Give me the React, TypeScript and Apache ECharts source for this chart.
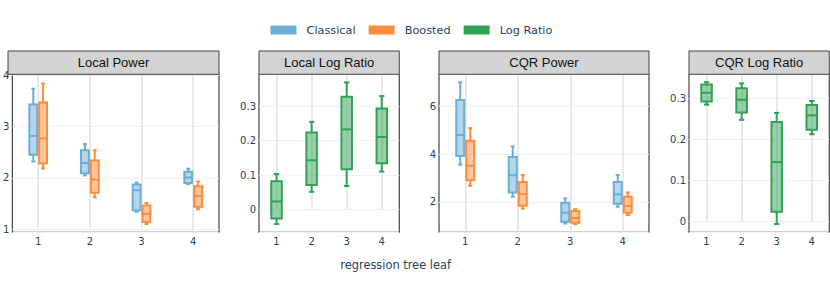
import React, { useEffect, useRef } from "react";
import * as echarts from "echarts";

const leaves = ["1", "2", "3", "4"];
const legendNames = ["Classical", "Boosted", "Log Ratio"];
const panelTitles = ["Local Power", "Local Log Ratio", "CQR Power", "CQR Log Ratio"];
const xAxisTitle = "regression tree leaf";

// each row: [lower whisker, Q1, median, Q3, upper whisker]
const localPowerClassical = [
  [2.32, 2.45, 2.82, 3.43, 3.74],
  [2.05, 2.09, 2.29, 2.54, 2.66],
  [1.34, 1.37, 1.76, 1.87, 1.91],
  [1.88, 1.9, 2.01, 2.12, 2.18],
];
const localPowerBoosted = [
  [2.18, 2.28, 2.77, 3.47, 3.84],
  [1.62, 1.71, 1.97, 2.34, 2.54],
  [1.1, 1.14, 1.3, 1.46, 1.51],
  [1.39, 1.44, 1.65, 1.84, 1.93],
];
const localLogRatio = [
  [-0.043, -0.027, 0.023, 0.082, 0.103],
  [0.051, 0.071, 0.143, 0.224, 0.255],
  [0.068, 0.117, 0.233, 0.328, 0.37],
  [0.11, 0.134, 0.211, 0.294, 0.33],
];
const cqrPowerClassical = [
  [3.55, 3.92, 4.8, 6.26, 7.01],
  [2.21, 2.39, 3.11, 3.87, 4.32],
  [1.09, 1.16, 1.54, 1.96, 2.14],
  [1.79, 1.92, 2.31, 2.83, 3.12],
];
const cqrPowerBoosted = [
  [2.67, 2.9, 3.51, 4.56, 5.08],
  [1.71, 1.83, 2.32, 2.83, 3.12],
  [1.06, 1.12, 1.32, 1.61, 1.69],
  [1.44, 1.54, 1.83, 2.21, 2.39],
];
const cqrLogRatio = [
  [0.285, 0.293, 0.314, 0.334, 0.34],
  [0.248, 0.266, 0.297, 0.325, 0.337],
  [-0.006, 0.024, 0.145, 0.243, 0.265],
  [0.213, 0.224, 0.259, 0.284, 0.294],
];

const COLORS: Record<string, string> = {
  Classical: "#6baed6",
  Boosted: "#fd8d3c",
  "Log Ratio": "#31a354",
};
const FILLS: Record<string, string> = {
  Classical: "rgba(107,174,214,0.5)",
  Boosted: "rgba(253,141,60,0.5)",
  "Log Ratio": "rgba(49,163,84,0.5)",
};

const FONT = "DejaVu Sans";
const TICK_COLOR = "#2a3f5f";

const GRID_TOP = 74.3;
const GRID_H = 158;
const grids = [
  { left: 8, width: 211 },
  { left: 259, width: 140.3 },
  { left: 439, width: 210 },
  { left: 689, width: 140.3 },
];
const yRanges = [
  { min: 0.94, max: 4.02, split: 3, step: 1 },
  { min: -0.067, max: 0.3936, split: 4, step: 0.1 },
  { min: 0.72, max: 7.34, split: 3, step: 2 },
  { min: -0.026, max: 0.359, split: 4, step: 0.1 },
];

function boxSeries(name: string, rows: number[][], gridIdx: number, offsetFrac: number, widthFrac: number) {
  const stroke = COLORS[name];
  const fill = FILLS[name];
  return {
    type: "custom",
    name,
    xAxisIndex: gridIdx,
    yAxisIndex: gridIdx,
    itemStyle: { color: stroke },
    encode: { x: 0, y: [1, 2, 3, 4, 5] },
    data: rows.map((r, i) => [i, ...r]),
    renderItem: (params: any, api: any) => {
      const cat = api.value(0);
      const lo = api.coord([cat, api.value(1)]);
      const q1 = api.coord([cat, api.value(2)]);
      const med = api.coord([cat, api.value(3)]);
      const q3 = api.coord([cat, api.value(4)]);
      const hi = api.coord([cat, api.value(5)]);
      const band = api.size([1, 0])[0];
      const cx = lo[0] + offsetFrac * band;
      const w = widthFrac * band;
      const cap = w * 0.5;
      const ls = { stroke, lineWidth: 2, fill: "none" };
      return {
        type: "group",
        children: [
          { type: "line", shape: { x1: cx, y1: hi[1], x2: cx, y2: q3[1] }, style: ls },
          { type: "line", shape: { x1: cx, y1: q1[1], x2: cx, y2: lo[1] }, style: ls },
          { type: "line", shape: { x1: cx - cap / 2, y1: hi[1], x2: cx + cap / 2, y2: hi[1] }, style: ls },
          { type: "line", shape: { x1: cx - cap / 2, y1: lo[1], x2: cx + cap / 2, y2: lo[1] }, style: ls },
          {
            type: "rect",
            shape: { x: cx - w / 2, y: q3[1], width: w, height: q1[1] - q3[1] },
            style: { fill, stroke, lineWidth: 2 },
          },
          { type: "line", shape: { x1: cx - w / 2, y1: med[1], x2: cx + w / 2, y2: med[1] }, style: ls },
        ],
      };
    },
  };
}

export default function App() {
  const ref = useRef<HTMLDivElement>(null);
  useEffect(() => {
    if (!ref.current) return;
    const chart = echarts.init(ref.current, undefined, { renderer: "svg" });

    const graphic: any[] = [];
    grids.forEach((g, i) => {
      graphic.push({
        type: "rect",
        shape: { x: g.left, y: 51, width: g.width, height: GRID_TOP - 51 },
        style: { fill: "#d3d3d3", stroke: "#444", lineWidth: 1 },
        z: 10,
      });
      graphic.push({
        type: "text",
        x: g.left + g.width / 2,
        y: 62.8,
        style: {
          text: panelTitles[i],
          font: '13px "Liberation Sans", Arial, sans-serif',
          fill: "#111",
          align: "center",
          verticalAlign: "middle",
          textAlign: "center",
          textVerticalAlign: "middle",
        },
        z: 11,
      });
    });
    graphic.push({
      type: "text",
      x: 395.6,
      y: 265,
      style: {
        text: xAxisTitle,
        font: `11.4px "${FONT}"`,
        fill: TICK_COLOR,
        align: "center",
        verticalAlign: "middle",
        textAlign: "center",
        textVerticalAlign: "middle",
      },
    });

    const option: any = {
      animation: false,
      backgroundColor: "#fff",
      legend: {
        left: 270.5,
        top: 24.5,
        padding: 0,
        icon: "rect",
        itemWidth: 26,
        itemHeight: 9,
        itemGap: 13,
        selectedMode: false,
        textStyle: { fontFamily: FONT, fontSize: 11.3, color: TICK_COLOR, padding: [0, 0, 0, 5] },
        data: legendNames.map((n) => ({ name: n, itemStyle: { color: COLORS[n], borderWidth: 0 } })),
      },
      grid: grids.map((g) => ({
        left: g.left,
        top: GRID_TOP,
        width: g.width,
        height: GRID_H,
        show: true,
        borderColor: "#444",
        borderWidth: 1.2,
        backgroundColor: "transparent",
      })),
      xAxis: grids.map((g, i) => ({
        type: "category",
        gridIndex: i,
        data: leaves,
        boundaryGap: true,
        axisLine: { show: false },
        axisTick: {
          show: true,
          alignWithLabel: true,
          inside: true,
          length: GRID_H,
          lineStyle: { color: "#e2e2e2", width: 1.5 },
        },
        splitLine: { show: false },
        axisLabel: { margin: 4, fontSize: 10, color: TICK_COLOR, fontFamily: FONT },
      })),
      yAxis: yRanges.map((r, i) => ({
        type: "value",
        gridIndex: i,
        min: r.min,
        max: r.max,
        splitNumber: r.split,
        axisLine: { show: false },
        axisTick: { show: false },
        splitLine: { show: true, lineStyle: { color: "#f0f0f0", width: 1 } },
        axisLabel: {
          margin: 3,
          fontSize: 10,
          color: TICK_COLOR,
          fontFamily: FONT,
          showMinLabel: true,
          showMaxLabel: true,
          formatter: (v: number) => {
            const k = v / r.step;
            if (Math.abs(k - Math.round(k)) > 1e-6) return "";
            const val = Math.round(k) * r.step;
            if (Math.abs(val) < 1e-9) return "0";
            return r.step < 1 ? val.toFixed(1) : String(Math.round(val));
          },
        },
      })),
      series: [
        boxSeries("Classical", localPowerClassical, 0, -0.095, 0.152),
        boxSeries("Boosted", localPowerBoosted, 0, 0.095, 0.152),
        boxSeries("Log Ratio", localLogRatio, 1, 0, 0.3),
        boxSeries("Classical", cqrPowerClassical, 2, -0.095, 0.152),
        boxSeries("Boosted", cqrPowerBoosted, 2, 0.095, 0.152),
        boxSeries("Log Ratio", cqrLogRatio, 3, 0, 0.3),
      ],
      graphic,
    };
    chart.setOption(option);
    return () => chart.dispose();
  }, []);
  return (
    <div
      ref={ref}
      style={{ position: "fixed", left: 0, top: 0, width: 830, height: 291 }}
    />
  );
}
